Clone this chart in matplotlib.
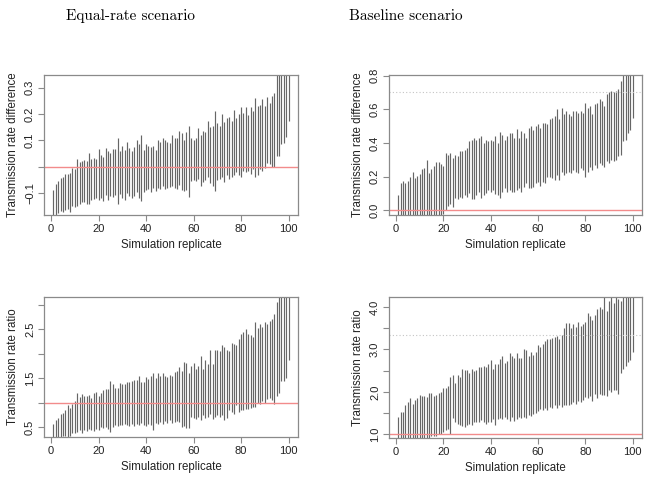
import numpy as np
import matplotlib
matplotlib.use("Agg")
import matplotlib.pyplot as plt

# replicate index (sorted by interval midpoint)
replicate = np.arange(1, 101)

# equal-rate scenario, transmission rate difference (95% interval bounds)
eq_diff_upper = [
    -0.089, -0.066, -0.053, -0.044, -0.040, -0.028, -0.027, -0.023, -0.004, -0.010,
    0.029, 0.019, 0.023, 0.025, 0.022, 0.050, 0.028, 0.034, 0.030, 0.066,
    0.045, 0.038, 0.072, 0.060, 0.052, 0.066, 0.068, 0.110, 0.060, 0.080,
    0.062, 0.095, 0.070, 0.060, 0.075, 0.100, 0.085, 0.120, 0.065, 0.085,
    0.080, 0.073, 0.078, 0.065, 0.100, 0.095, 0.110, 0.100, 0.095, 0.088,
    0.120, 0.108, 0.110, 0.135, 0.128, 0.100, 0.130, 0.155, 0.110, 0.100,
    0.110, 0.145, 0.120, 0.135, 0.130, 0.175, 0.150, 0.155, 0.210, 0.165,
    0.155, 0.200, 0.170, 0.185, 0.190, 0.175, 0.215, 0.185, 0.200, 0.225,
    0.205, 0.225, 0.195, 0.225, 0.210, 0.260, 0.230, 0.235, 0.255, 0.230,
    0.265, 0.240, 0.270, 0.280, 0.400, 0.380, 0.420, 0.450, 0.500, 0.450,
]
eq_diff_lower = [
    -0.220, -0.190, -0.175, -0.170, -0.172, -0.165, -0.160, -0.172, -0.150, -0.155,
    -0.148, -0.142, -0.135, -0.133, -0.140, -0.140, -0.128, -0.122, -0.118, -0.128,
    -0.118, -0.130, -0.108, -0.126, -0.110, -0.115, -0.108, -0.142, -0.104, -0.118,
    -0.125, -0.100, -0.112, -0.120, -0.110, -0.098, -0.118, -0.130, -0.095, -0.090,
    -0.086, -0.095, -0.082, -0.092, -0.080, -0.085, -0.075, -0.085, -0.082, -0.078,
    -0.072, -0.080, -0.085, -0.068, -0.090, -0.092, -0.088, -0.117, -0.055, -0.050,
    -0.055, -0.045, -0.072, -0.058, -0.050, -0.040, -0.062, -0.075, -0.093, -0.050,
    -0.045, -0.038, -0.058, -0.030, -0.048, -0.040, -0.030, -0.022, -0.032, -0.040,
    -0.018, -0.022, -0.015, -0.028, -0.010, -0.040, -0.030, -0.010, -0.015, -0.005,
    0.015, 0.010, 0.000, 0.000, 0.040, 0.042, 0.085, 0.090, 0.112, 0.172,
]

# baseline scenario, transmission rate difference
base_diff_upper = [
    0.090, 0.160, 0.175, 0.165, 0.175, 0.195, 0.225, 0.190, 0.205, 0.215,
    0.245, 0.250, 0.300, 0.220, 0.245, 0.265, 0.285, 0.285, 0.275, 0.265,
    0.340, 0.330, 0.340, 0.310, 0.330, 0.320, 0.350, 0.355, 0.360, 0.370,
    0.410, 0.420, 0.430, 0.420, 0.430, 0.440, 0.400, 0.420, 0.410, 0.420,
    0.410, 0.440, 0.400, 0.465, 0.450, 0.420, 0.440, 0.460, 0.460, 0.430,
    0.485, 0.430, 0.470, 0.460, 0.430, 0.490, 0.500, 0.480, 0.500, 0.510,
    0.490, 0.520, 0.520, 0.510, 0.540, 0.550, 0.560, 0.600, 0.540, 0.610,
    0.570, 0.590, 0.570, 0.560, 0.590, 0.590, 0.580, 0.590, 0.580, 0.640,
    0.610, 0.620, 0.570, 0.630, 0.640, 0.660, 0.650, 0.620, 0.690, 0.700,
    0.710, 0.700, 0.710, 0.720, 0.770, 0.900, 0.900, 0.950, 0.950, 0.950,
]
base_diff_lower = [
    -0.080, -0.070, -0.070, -0.060, -0.060, -0.060, -0.060, -0.060, -0.050, -0.050,
    -0.050, -0.050, -0.040, -0.040, -0.040, -0.040, -0.030, -0.030, -0.030, -0.020,
    0.000, 0.025, 0.040, 0.020, 0.075, 0.070, 0.080, 0.075, 0.090, 0.080,
    0.100, 0.070, 0.065, 0.090, 0.110, 0.075, 0.090, 0.100, 0.120, 0.110,
    0.120, 0.095, 0.090, 0.075, 0.110, 0.130, 0.110, 0.120, 0.110, 0.110,
    0.120, 0.130, 0.110, 0.140, 0.160, 0.130, 0.130, 0.140, 0.160, 0.170,
    0.145, 0.170, 0.160, 0.200, 0.200, 0.190, 0.180, 0.210, 0.180, 0.230,
    0.210, 0.220, 0.230, 0.220, 0.240, 0.230, 0.220, 0.250, 0.240, 0.200,
    0.230, 0.260, 0.240, 0.270, 0.250, 0.280, 0.270, 0.260, 0.290, 0.280,
    0.300, 0.290, 0.300, 0.320, 0.330, 0.410, 0.420, 0.460, 0.480, 0.550,
]

# equal-rate scenario, transmission rate ratio
eq_ratio_upper = [
    0.58, 0.65, 0.70, 0.77, 0.80, 0.85, 0.95, 0.90, 0.97, 1.03,
    1.20, 1.12, 1.18, 1.15, 1.15, 1.17, 1.10, 1.20, 1.23, 1.15,
    1.20, 1.27, 1.28, 1.28, 1.44, 1.38, 1.30, 1.30, 1.40, 1.38,
    1.38, 1.42, 1.42, 1.45, 1.46, 1.47, 1.55, 1.42, 1.42, 1.53,
    1.48, 1.55, 1.60, 1.50, 1.62, 1.55, 1.62, 1.55, 1.52, 1.57,
    1.55, 1.63, 1.65, 1.74, 1.65, 1.83, 1.82, 1.60, 1.75, 1.82,
    1.70, 1.75, 1.95, 1.70, 1.87, 1.80, 2.08, 1.80, 2.08, 2.08,
    2.05, 2.18, 2.15, 2.08, 2.05, 2.22, 2.20, 2.18, 2.30, 2.40,
    2.45, 2.50, 2.40, 2.38, 2.35, 2.65, 2.52, 2.60, 2.55, 2.65,
    2.60, 2.68, 2.72, 2.82, 3.05, 3.40, 3.50, 3.50, 3.60, 3.60,
]
eq_ratio_lower = [
    0.20, 0.25, 0.28, 0.30, 0.33, 0.32, 0.31, 0.33, 0.38, 0.38,
    0.40, 0.45, 0.38, 0.45, 0.42, 0.47, 0.45, 0.42, 0.47, 0.45,
    0.50, 0.48, 0.50, 0.47, 0.40, 0.50, 0.55, 0.52, 0.55, 0.55,
    0.58, 0.55, 0.52, 0.57, 0.52, 0.56, 0.55, 0.60, 0.55, 0.52,
    0.58, 0.55, 0.45, 0.60, 0.57, 0.62, 0.58, 0.63, 0.60, 0.65,
    0.60, 0.62, 0.63, 0.62, 0.50, 0.52, 0.48, 0.48, 0.72, 0.70,
    0.68, 0.72, 0.65, 0.75, 0.70, 0.72, 0.78, 0.68, 0.72, 0.75,
    0.72, 0.75, 0.65, 0.70, 0.85, 0.82, 0.78, 0.95, 0.82, 0.85,
    0.85, 0.88, 0.88, 0.90, 0.92, 0.92, 1.00, 0.97, 1.03, 1.00,
    1.07, 1.10, 1.05, 0.97, 1.15, 1.20, 1.45, 1.45, 1.50, 1.88,
]

# baseline scenario, transmission rate ratio
base_ratio_upper = [
    1.40, 1.52, 1.52, 1.70, 1.75, 1.85, 1.72, 1.80, 1.85, 1.93,
    1.90, 1.90, 1.88, 1.98, 1.98, 1.90, 1.93, 1.98, 2.00, 2.10,
    2.10, 2.15, 2.35, 2.40, 2.22, 2.40, 2.35, 2.55, 2.52, 2.52,
    2.45, 2.55, 2.50, 2.52, 2.58, 2.58, 2.60, 2.58, 2.65, 2.75,
    2.55, 2.65, 2.65, 2.78, 2.85, 2.68, 2.72, 2.92, 2.85, 2.80,
    2.92, 2.80, 2.80, 3.02, 2.98, 2.85, 2.95, 2.88, 2.95, 3.10,
    3.05, 3.12, 3.20, 3.25, 3.25, 3.28, 3.30, 3.32, 3.25, 3.35,
    3.50, 3.62, 3.62, 3.50, 3.60, 3.52, 3.65, 3.55, 3.60, 3.65,
    3.85, 3.80, 3.70, 3.82, 3.95, 4.00, 3.95, 4.50, 3.90, 4.15,
    4.50, 4.10, 4.50, 4.18, 4.15, 4.50, 4.60, 4.60, 4.60, 4.60,
]
base_ratio_lower = [
    0.80, 0.82, 0.85, 0.85, 0.85, 0.87, 0.88, 0.88, 0.90, 0.92,
    0.90, 0.90, 0.92, 0.88, 0.95, 0.95, 0.97, 1.00, 1.00, 1.05,
    1.10, 1.12, 1.00, 1.38, 1.30, 1.25, 1.22, 1.20, 1.18, 1.22,
    1.25, 1.22, 1.28, 1.30, 1.28, 1.33, 1.30, 1.25, 1.28, 1.30,
    1.35, 1.22, 1.35, 1.38, 1.35, 1.40, 1.35, 1.32, 1.40, 1.32,
    1.35, 1.40, 1.38, 1.40, 1.38, 1.45, 1.42, 1.48, 1.50, 1.55,
    1.60, 1.58, 1.62, 1.58, 1.65, 1.62, 1.68, 1.62, 1.70, 1.65,
    1.68, 1.70, 1.68, 1.72, 1.75, 1.72, 1.78, 1.75, 1.82, 1.88,
    1.85, 1.90, 1.78, 1.95, 1.85, 1.95, 1.92, 1.92, 1.90, 2.05,
    2.00, 2.05, 2.05, 1.95, 2.45, 2.55, 2.60, 2.70, 2.75, 2.95,
]

# reference values
null_diff, null_ratio = 0.0, 1.0
true_diff, true_ratio = 0.7, 3.33

titles = ["Equal-rate scenario", "Baseline scenario"]

BOX = "#8a8a8a"
SEG = "#666666"
RED = "#f28b8b"

plt.rcParams["font.family"] = ["Liberation Sans", "DejaVu Sans"]
fig = plt.figure(figsize=(6.51, 4.82), dpi=100)
W, H = 651, 482


def make_axes(x0, x1, y0, y1):
    return fig.add_axes([x0 / W, 1 - y1 / H, (x1 - x0) / W, (y1 - y0) / H])


def draw_panel(ax, lower, upper, ylim, yticks, ylabels, ylab, null, truth=None):
    ax.vlines(replicate, lower, upper, color=SEG, lw=0.85)
    ax.axhline(null, color=RED, lw=1.0)
    if truth is not None:
        ax.axhline(truth, color="#c4c4c4", lw=0.8, ls=(0, (1, 2)))
    ax.set_xlim(-2.96, 103.96)
    ax.set_ylim(*ylim)
    ax.set_xticks([0, 20, 40, 60, 80, 100])
    ax.set_yticks(yticks)
    ax.set_yticklabels(ylabels, rotation=90, va="center")
    for s in ax.spines.values():
        s.set_color(BOX)
        s.set_linewidth(0.9)
    ax.tick_params(colors=BOX, labelcolor="#222222", labelsize=8, length=4.5, width=0.8, pad=2)
    ax.set_xlabel("Simulation replicate", fontsize=8.3, color="#222222")
    ax.set_ylabel(ylab, fontsize=8.3, color="#222222")
    ax.xaxis.set_label_coords(0.5, -0.215)
    ax.xaxis.label.set_verticalalignment("center")
    ax.yaxis.set_label_coords(-0.122, 0.5)
    ax.yaxis.label.set_verticalalignment("center")


ax1 = make_axes(44, 298, 75, 215)
draw_panel(ax1, eq_diff_lower, eq_diff_upper, (-0.1835, 0.348),
           [-0.1, 0.0, 0.1, 0.2, 0.3], ["\u22120.1", "", "0.1", "0.2", "0.3"],
           "Transmission rate difference", null_diff)

ax2 = make_axes(389, 642, 75, 215)
draw_panel(ax2, base_diff_lower, base_diff_upper, (-0.028, 0.804),
           [0.0, 0.2, 0.4, 0.6, 0.8], ["0.0", "0.2", "0.4", "0.6", "0.8"],
           "Transmission rate difference", null_diff, true_diff)

ax3 = make_axes(44, 298, 297, 437)
draw_panel(ax3, eq_ratio_lower, eq_ratio_upper, (0.305, 3.16),
           [0.5, 1.0, 1.5, 2.0, 2.5, 3.0], ["0.5", "", "1.5", "", "2.5", ""],
           "Transmission rate ratio", null_ratio)

ax4 = make_axes(389, 642, 297, 438)
draw_panel(ax4, base_ratio_lower, base_ratio_upper, (0.913, 4.236),
           [1.0, 1.5, 2.0, 2.5, 3.0, 3.5, 4.0], ["1.0", "", "2.0", "", "3.0", "", "4.0"],
           "Transmission rate ratio", null_ratio, true_ratio)

fig.text(131 / W, 1 - 16 / H, titles[0], family="cmr10", fontsize=11, ha="center", va="center")
fig.text(406 / W, 1 - 16 / H, titles[1], family="cmr10", fontsize=11, ha="center", va="center")

fig.savefig("out.png", dpi=100)
